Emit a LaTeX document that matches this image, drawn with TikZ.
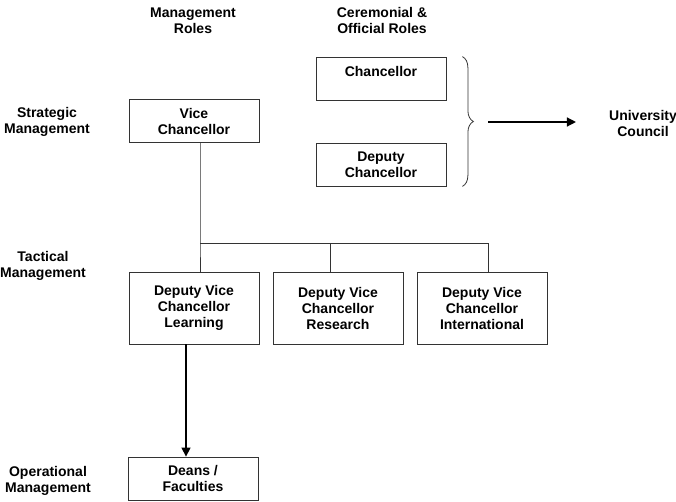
\documentclass[tikz,border=0pt]{standalone}
\usepackage{fontspec}
\setmainfont{Liberation Sans}
\usetikzlibrary{arrows.meta,decorations.pathreplacing}

\begin{document}
\begin{tikzpicture}[
  x=1pt,y=-1pt,
  font=\fontsize{14}{16}\selectfont\bfseries,
  role/.style={rectangle,draw=black!80,line width=0.8pt,align=center,minimum width=130pt,minimum height=43pt,inner sep=2pt},
  level/.style={align=center,inner sep=0pt},
  flow/.style={line width=1.3pt,-{Triangle[length=9pt,width=9pt]}},
  tree/.style={black!80,line width=0.8pt}
]
\useasboundingbox (0,0) rectangle (676,502);

% headings and levels
\node[level] (mroles) at (193,21) {Management\\Roles};
\node[level] (croles) at (382,21) {Ceremonial \&\\Official Roles};
\node[level] (strat) at (47,122) {Strategic\\Management};
\node[level] (tact) at (43,266) {Tactical\\Management};
\node[level] (oper) at (48,481) {Operational\\Management};

% boxes
\node[role] (vc) at (194,121) {Vice\\Chancellor};
\node[role] (chan) at (381,78.5) {Chancellor\\[-6pt]\strut};
\node[role] (dchan) at (381,164.5) {Deputy\\Chancellor};
\node[role,minimum height=72pt] (learn) at (194,308) {Deputy Vice\\Chancellor\\Learning};
\node[role,minimum height=72pt] (res) at (338,308) {Deputy Vice\\Chancellor\\Research};
\node[role,minimum height=72pt] (intl) at (482,308) {Deputy Vice\\Chancellor\\International};
\node[role] (deans) at (193,478.5) {Deans /\\Faculties};
\node[level] (council) at (643,123) {University\\Council};

% tree
\coordinate (split) at (200,243);
\draw[tree] ([xshift=6pt]vc.south) -- (split) -- ([xshift=6pt]learn.north);
\draw[tree] (split) -- (488,243) -- ([xshift=6pt]intl.north);
\draw[tree] (330,243) -- ([xshift=-8pt]res.north);
\draw[flow] ([xshift=-8pt]learn.south) -- ([xshift=-7pt]deans.north);

% brace to council
\draw[black!80,line width=0.8pt,decorate,decoration={brace,amplitude=11pt}]
  ([xshift=16pt]chan.north east) -- ([xshift=16pt]dchan.south east) coordinate (bend);
\coordinate (btip) at (488,122);
\draw[flow] (btip) -- ([xshift=-33pt]council.west |- btip);

\end{tikzpicture}
\end{document}
